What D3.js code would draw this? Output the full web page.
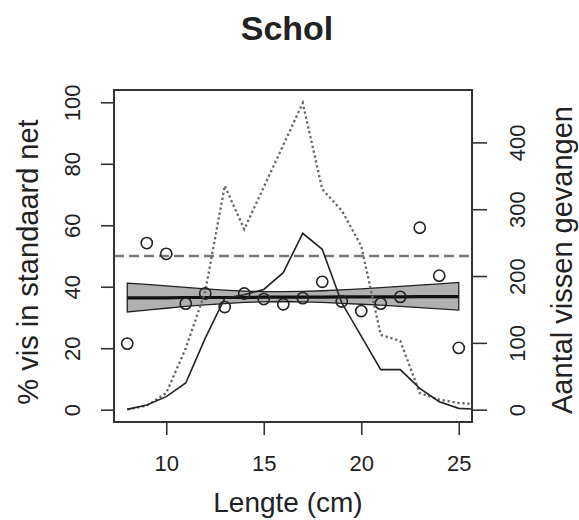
<!DOCTYPE html>
<html><head><meta charset="utf-8">
<script src="https://cdn.jsdelivr.net/npm/d3@7"></script>
<style>
body{margin:0;background:#fff;}
text{font-family:"Liberation Sans",Arial,sans-serif;fill:#222;}
</style></head>
<body><svg id="c" width="579" height="520"></svg>
<script>
// ---- data ----
const lengths = [8,9,10,11,12,13,14,15,16,17,18,19,20,21,22,23,24,25];
const pctStandard = [21.5,54.2,50.7,34.5,37.8,33.4,37.8,36.0,34.3,36.3,41.6,35.2,32.1,34.5,36.7,59.2,43.6,20.1];
const fitPct   = [36.4,36.4,36.4,36.5,36.5,36.5,36.5,36.6,36.6,36.6,36.6,36.7,36.7,36.7,36.7,36.8,36.8,36.8];
const fitLower = [31.8,32.4,33.0,33.6,34.1,34.5,34.9,35.1,35.2,35.1,34.9,34.6,34.3,34.0,33.6,33.2,32.8,32.4];
const fitUpper = [41.2,40.8,40.3,39.8,39.3,38.9,38.6,38.4,38.4,38.5,38.7,39.0,39.3,39.7,40.1,40.5,40.9,41.4];
const refPct = 50;
const countLengths = [8,9,10,11,12,13,14,15,16,17,18,19,20,21,22,23,24,25,26];
const countStandard = [0.5,7,19.5,40,107,167,172,180,205,264,240,160,110,60,60,32,12,2,0.5];
const countTotal    = [0.5,6,25,92,177,335,270,333,396,459,330,298,245,112,103,25,15,10,8];
const leftTicks = [0,20,40,60,80,100];
const rightTicks = [0,100,200,300,400];
const xTicks = [10,15,20,25];

const svg = d3.select("#c");
const L=114,R=472,T=90,B=422;
const x = d3.scaleLinear().domain([7.32,25.68]).range([L,R]);
const yL = d3.scaleLinear().domain([-4,104]).range([B,T]);
const yR = d3.scaleLinear().domain([-18.4,478.4]).range([B,T]);

svg.append("defs").append("clipPath").attr("id","clip")
  .append("rect").attr("x",L).attr("y",T).attr("width",R-L).attr("height",B-T);
const plot = svg.append("g").attr("clip-path","url(#clip)");

// band
const band = lengths.map((d,i)=>[x(d),yL(fitUpper[i])])
  .concat(lengths.map((d,i)=>[x(d),yL(fitLower[i])]).reverse());
plot.append("path").attr("d","M"+band.join("L")+"Z")
  .attr("fill","#b0b0b0").attr("stroke","#222").attr("stroke-width",1.3);
plot.append("path").datum(lengths.map((d,i)=>[d,fitPct[i]]))
  .attr("d",d3.line().x(d=>x(d[0])).y(d=>yL(d[1])))
  .attr("fill","none").attr("stroke","#111").attr("stroke-width",3.2);

// reference dashed
plot.append("line").attr("x1",L).attr("x2",R).attr("y1",yL(refPct)).attr("y2",yL(refPct))
  .attr("stroke","#777").attr("stroke-width",2.6).attr("stroke-dasharray","10,5");

// count lines
const lineR = d3.line().x(d=>x(d[0])).y(d=>yR(d[1]));
plot.append("path").datum(countLengths.map((d,i)=>[d,countTotal[i]]))
  .attr("d",lineR).attr("fill","none").attr("stroke","#666").attr("stroke-width",2.3)
  .attr("stroke-dasharray","2.3,2.7");
plot.append("path").datum(countLengths.map((d,i)=>[d,countStandard[i]]))
  .attr("d",lineR).attr("fill","none").attr("stroke","#222").attr("stroke-width",1.6);

// points
svg.append("g").selectAll("circle").data(lengths).join("circle")
  .attr("cx",d=>x(d)).attr("cy",(d,i)=>yL(pctStandard[i])).attr("r",5.6)
  .attr("fill","none").attr("stroke","#222").attr("stroke-width",1.6);

// box
svg.append("rect").attr("x",L).attr("y",T).attr("width",R-L).attr("height",B-T)
  .attr("fill","none").attr("stroke","#333").attr("stroke-width",2);

// axes
const ax = svg.append("g").attr("transform",`translate(0,${B})`)
  .call(d3.axisBottom(x).tickValues(xTicks).tickSize(13).tickPadding(20));
ax.select(".domain").remove();
ax.selectAll("line").attr("stroke","#333").attr("stroke-width",1.6);
ax.selectAll("text").attr("font-size",22).attr("fill","#222");

const al = svg.append("g").attr("transform",`translate(${L},0)`)
  .call(d3.axisLeft(yL).tickValues(leftTicks).tickSize(13));
al.select(".domain").remove();
al.selectAll("line").attr("stroke","#333").attr("stroke-width",1.6);
al.selectAll("text").attr("font-size",22).attr("fill","#222")
  .attr("text-anchor","middle").attr("dy",0).attr("x",0)
  .attr("transform","translate(-34,0) rotate(-90)");

const ar = svg.append("g").attr("transform",`translate(${R},0)`)
  .call(d3.axisRight(yR).tickValues(rightTicks).tickSize(15));
ar.select(".domain").remove();
ar.selectAll("line").attr("stroke","#333").attr("stroke-width",1.6);
ar.selectAll("text").attr("font-size",22).attr("fill","#222")
  .attr("text-anchor","middle").attr("dy",0).attr("x",0)
  .attr("transform","translate(53,0) rotate(-90)");

// labels
svg.append("text").attr("x",287).attr("y",40).attr("text-anchor","middle")
  .attr("font-size",34).attr("font-weight","bold").attr("fill","#111").text("Schol");
svg.append("text").attr("x",288).attr("y",512).attr("text-anchor","middle")
  .attr("font-size",28).text("Lengte (cm)");
svg.append("text").attr("transform","translate(38,262) rotate(-90)").attr("text-anchor","middle")
  .attr("font-size",29).text("% vis in standaard net");
svg.append("text").attr("transform","translate(572,260) rotate(-90)").attr("text-anchor","middle")
  .attr("font-size",29).text("Aantal vissen gevangen");
</script></body></html>
